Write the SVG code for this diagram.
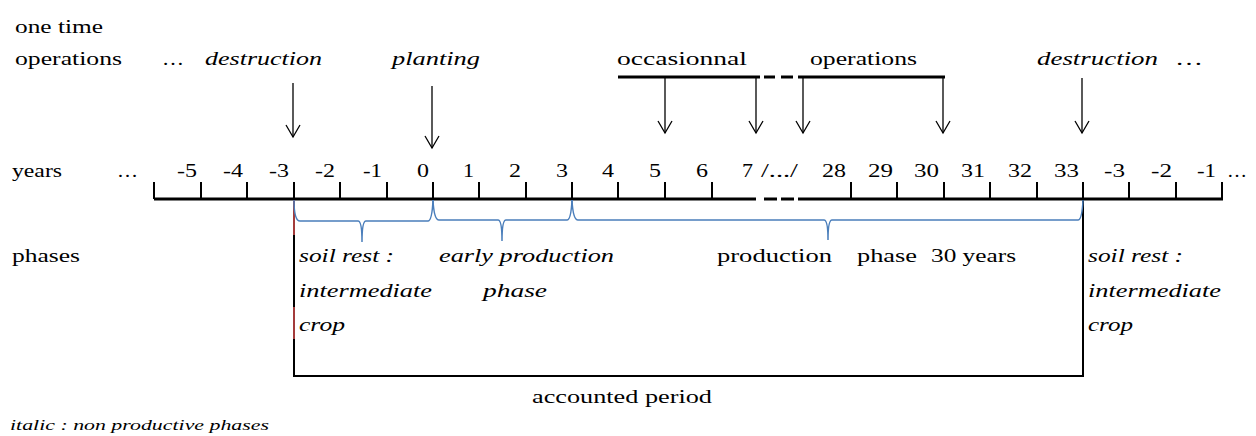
<svg xmlns="http://www.w3.org/2000/svg" width="1256" height="436" viewBox="0 0 1256 436">
<style>
.i{font-style:italic}
.n{text-anchor:end}
.ax{stroke:#000;stroke-width:3;fill:none}
.tk{stroke:#000;stroke-width:2;fill:none}
.ar{stroke:#000;stroke-width:1.3;fill:none;marker-end:url(#ah)}
.br{stroke:#4a7ebb;stroke-width:1.5;fill:none}
.bx{stroke:#000;stroke-width:2;fill:none}
.rd{stroke:#a33b3b;stroke-width:2;fill:none}
</style>
<defs>
<marker id="ah" markerUnits="userSpaceOnUse" viewBox="-14 -9 16 18" markerWidth="16" markerHeight="18" refX="0" refY="0" orient="auto">
<path d="M-12,-7 L0,0 L-12,7" fill="none" stroke="#000" stroke-width="1.3"/>
</marker>
</defs>
<rect width="1256" height="436" fill="#fff"/>
<g font-family="Liberation Serif, serif" font-size="18" fill="#000">
<g id="row-labels">
<text x="15" y="33" textLength="88" lengthAdjust="spacingAndGlyphs">one time</text>
<text x="15" y="65" textLength="107" lengthAdjust="spacingAndGlyphs">operations</text>
<text x="12" y="177" textLength="50" lengthAdjust="spacingAndGlyphs">years</text>
<text x="12" y="262" textLength="68" lengthAdjust="spacingAndGlyphs">phases</text>
</g>

<g id="operations">
<text x="162" y="65" textLength="22" lengthAdjust="spacingAndGlyphs">…</text>
<text class="i" x="205" y="65" textLength="117" lengthAdjust="spacingAndGlyphs">destruction</text>
<text class="i" x="392" y="65" textLength="88" lengthAdjust="spacingAndGlyphs">planting</text>
<text x="617" y="65" textLength="130" lengthAdjust="spacingAndGlyphs">occasionnal</text>
<text x="810" y="65" textLength="107" lengthAdjust="spacingAndGlyphs">operations</text>
<text class="i" x="1037" y="65" textLength="121" lengthAdjust="spacingAndGlyphs">destruction</text>
<text x="1175" y="65" textLength="28" lengthAdjust="spacingAndGlyphs">…</text>
</g>

<g id="year-labels">
<text x="117" y="177" textLength="21" lengthAdjust="spacingAndGlyphs">…</text>
<text class="n" x="197" y="177" textLength="20" lengthAdjust="spacingAndGlyphs">-5</text>
<text class="n" x="243" y="177" textLength="20" lengthAdjust="spacingAndGlyphs">-4</text>
<text class="n" x="289" y="177" textLength="20" lengthAdjust="spacingAndGlyphs">-3</text>
<text class="n" x="335" y="177" textLength="20" lengthAdjust="spacingAndGlyphs">-2</text>
<text class="n" x="382" y="177" textLength="19" lengthAdjust="spacingAndGlyphs">-1</text>
<text class="n" x="429" y="177" textLength="12" lengthAdjust="spacingAndGlyphs">0</text>
<text class="n" x="474" y="177" textLength="11" lengthAdjust="spacingAndGlyphs">1</text>
<text class="n" x="521" y="177" textLength="12" lengthAdjust="spacingAndGlyphs">2</text>
<text class="n" x="568" y="177" textLength="12" lengthAdjust="spacingAndGlyphs">3</text>
<text class="n" x="614" y="177" textLength="12" lengthAdjust="spacingAndGlyphs">4</text>
<text class="n" x="661" y="177" textLength="12" lengthAdjust="spacingAndGlyphs">5</text>
<text class="n" x="708" y="177" textLength="12" lengthAdjust="spacingAndGlyphs">6</text>
<text class="n" x="753" y="177" textLength="11" lengthAdjust="spacingAndGlyphs">7</text>
<text x="761" y="177" textLength="37" lengthAdjust="spacingAndGlyphs">/.../</text>
<text class="n" x="846" y="177" textLength="24" lengthAdjust="spacingAndGlyphs">28</text>
<text class="n" x="893" y="177" textLength="25" lengthAdjust="spacingAndGlyphs">29</text>
<text class="n" x="939" y="177" textLength="25" lengthAdjust="spacingAndGlyphs">30</text>
<text class="n" x="985" y="177" textLength="24" lengthAdjust="spacingAndGlyphs">31</text>
<text class="n" x="1032" y="177" textLength="24" lengthAdjust="spacingAndGlyphs">32</text>
<text class="n" x="1079" y="177" textLength="25" lengthAdjust="spacingAndGlyphs">33</text>
<text class="n" x="1125" y="177" textLength="21" lengthAdjust="spacingAndGlyphs">-3</text>
<text class="n" x="1172" y="177" textLength="21" lengthAdjust="spacingAndGlyphs">-2</text>
<text class="n" x="1216" y="177" textLength="19" lengthAdjust="spacingAndGlyphs">-1</text>
<text x="1227" y="177" textLength="20" lengthAdjust="spacingAndGlyphs">…</text>
</g>

<g id="phase-labels">
<text class="i" x="299" y="262" textLength="95" lengthAdjust="spacingAndGlyphs">soil rest :</text>
<text class="i" x="299" y="297" textLength="133" lengthAdjust="spacingAndGlyphs">intermediate</text>
<text class="i" x="299" y="331" textLength="46" lengthAdjust="spacingAndGlyphs">crop</text>
<text class="i" x="439" y="262" textLength="175" lengthAdjust="spacingAndGlyphs">early production</text>
<text class="i" x="483" y="297" textLength="64" lengthAdjust="spacingAndGlyphs">phase</text>
<text x="717" y="262" textLength="115" lengthAdjust="spacingAndGlyphs">production</text>
<text x="857" y="262" textLength="60" lengthAdjust="spacingAndGlyphs">phase</text>
<text x="931" y="262" textLength="85" lengthAdjust="spacingAndGlyphs">30 years</text>
<text class="i" x="1088" y="262" textLength="95" lengthAdjust="spacingAndGlyphs">soil rest :</text>
<text class="i" x="1088" y="297" textLength="133" lengthAdjust="spacingAndGlyphs">intermediate</text>
<text class="i" x="1088" y="331" textLength="45" lengthAdjust="spacingAndGlyphs">crop</text>
</g>

<g id="accounted-period-label">
<text x="532" y="403" textLength="180" lengthAdjust="spacingAndGlyphs">accounted period</text>
</g>

<g id="legend">
<text class="i" x="10" y="430" font-size="15" textLength="259" lengthAdjust="spacingAndGlyphs">italic : non productive phases</text>
</g>
</g>

<g id="occasional-bar">
<path class="ax" d="M618,77 H760 M764,77 H775 M781,77 H793 M798,77 H945"/>
</g>

<g id="axis">
<path class="ax" d="M154,199 H756 M764,199 H777 M781,199 H794 M798,199 H1223"/>
<path class="tk" d="M154,182 V199 M201,182 V199 M247,182 V199 M294,182 V199 M340,182 V199 M387,182 V199 M433,182 V199 M479,182 V199 M526,182 V199 M572,182 V199 M618,182 V199 M665,182 V199 M712,182 V199 M851,182 V199 M897,182 V199 M944,182 V199 M990,182 V199 M1037,182 V199 M1083,182 V199 M1129,182 V199 M1176,182 V199 M1222,182 V199"/>
</g>

<g id="accounted-period">
<path class="bx" d="M294,199 V376 H1083 V199"/>
<path class="rd" d="M294,200 V235 M294,307 V339"/>
</g>

<g id="connectors">
<path class="ar" d="M293,83 V137"/>
<path class="ar" d="M432,86 V148"/>
<path class="ar" d="M665,77 V133"/>
<path class="ar" d="M756,77 V133"/>
<path class="ar" d="M803,77 V133"/>
<path class="ar" d="M943,77 V133"/>
<path class="ar" d="M1082,78 V133"/>
<path class="br" d="M294,200 Q294,221 300,221 H358 Q362,221 362,242 Q362,221 366,221 H428 Q432,221 433,200"/>
<path class="br" d="M433,200 Q434,220 439,220 H498 Q502,220 502,241 Q502,220 506,220 H567 Q571,220 572,200"/>
<path class="br" d="M572,200 Q573,220 578,220 H824 Q828,220 828,240 Q828,220 832,220 H1078 Q1082,220 1083,200"/>
</g>
</svg>
